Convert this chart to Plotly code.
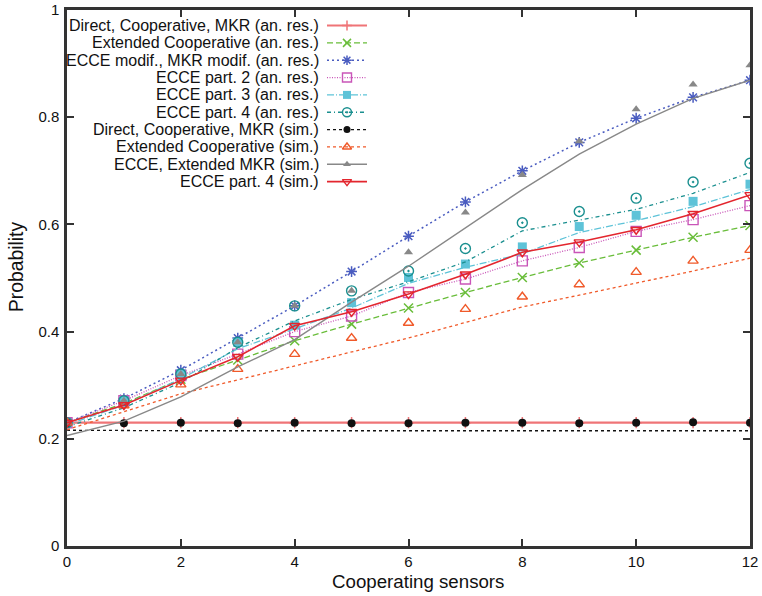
import plotly.graph_objects as go

# ---------------- data ----------------
x_sensors = [0, 1, 2, 3, 4, 5, 6, 7, 8, 9, 10, 11, 12]

direct_coop_mkr_an = [0.230, 0.230, 0.230, 0.230, 0.230, 0.230, 0.230, 0.230, 0.230, 0.230, 0.230, 0.230, 0.230]
ext_coop_an = [0.230, 0.266, 0.311, 0.347, 0.383, 0.414, 0.444, 0.473, 0.501, 0.528, 0.552, 0.576, 0.598]
ecce_modif_an = [0.230, 0.275, 0.328, 0.388, 0.448, 0.512, 0.578, 0.642, 0.700, 0.753, 0.798, 0.837, 0.869]
ecce_p2_an = [0.230, 0.271, 0.318, 0.358, 0.400, 0.429, 0.473, 0.498, 0.532, 0.557, 0.587, 0.609, 0.635]
ecce_p3_an_pts = [0.230, 0.271, 0.321, 0.380, 0.412, 0.454, 0.501, 0.526, 0.558, 0.596, 0.617, 0.643, 0.675]
ecce_p3_an_line = [0.226, 0.263, 0.312, 0.368, 0.405, 0.444, 0.490, 0.520, 0.545, 0.585, 0.607, 0.633, 0.665]
ecce_p4_an_pts = [0.230, 0.271, 0.321, 0.380, 0.448, 0.476, 0.513, 0.555, 0.603, 0.624, 0.649, 0.679, 0.714]
ecce_p4_an_line = [0.222, 0.258, 0.305, 0.370, 0.420, 0.460, 0.493, 0.530, 0.588, 0.608, 0.628, 0.658, 0.697]
direct_sim_pts = [0.230, 0.229, 0.230, 0.229, 0.230, 0.229, 0.229, 0.230, 0.230, 0.229, 0.230, 0.231, 0.230]
direct_sim_line = [0.216, 0.215, 0.215, 0.215, 0.215, 0.215, 0.214, 0.215, 0.215, 0.215, 0.215, 0.215, 0.215]
ext_coop_sim_pts = [0.230, 0.262, 0.301, 0.330, 0.358, 0.388, 0.416, 0.442, 0.465, 0.488, 0.511, 0.532, 0.552]
ext_coop_sim_line = [0.217, 0.250, 0.284, 0.310, 0.336, 0.362, 0.388, 0.417, 0.446, 0.468, 0.490, 0.513, 0.537]
ecce_ext_mkr_sim_pts = [0.230, 0.271, 0.321, 0.380, 0.448, 0.476, 0.548, 0.622, 0.692, 0.755, 0.815, 0.861, 0.897]
ecce_ext_mkr_sim_line = [0.206, 0.233, 0.278, 0.334, 0.385, 0.455, 0.522, 0.593, 0.665, 0.731, 0.787, 0.835, 0.869]
ecce_p4_sim = [0.230, 0.263, 0.309, 0.353, 0.411, 0.437, 0.470, 0.507, 0.548, 0.567, 0.590, 0.620, 0.655]

series_names = [
    "Direct, Cooperative, MKR (an. res.)",
    "Extended Cooperative (an. res.)",
    "ECCE modif., MKR modif. (an. res.)",
    "ECCE part. 2 (an. res.)",
    "ECCE part. 3 (an. res.)",
    "ECCE part. 4 (an. res.)",
    "Direct, Cooperative, MKR (sim.)",
    "Extended Cooperative (sim.)",
    "ECCE, Extended MKR (sim.)",
    "ECCE part. 4 (sim.)",
]
series_lines = [direct_coop_mkr_an, ext_coop_an, ecce_modif_an, ecce_p2_an, ecce_p3_an_line,
                ecce_p4_an_line, direct_sim_line, ext_coop_sim_line, ecce_ext_mkr_sim_line, ecce_p4_sim]
series_pts = [direct_coop_mkr_an, ext_coop_an, ecce_modif_an, ecce_p2_an, ecce_p3_an_pts,
              ecce_p4_an_pts, direct_sim_pts, ext_coop_sim_pts, ecce_ext_mkr_sim_pts, ecce_p4_sim]

y_tickvals = [0, 0.2, 0.4, 0.6, 0.8, 1]
y_ticktext = ["0", "0.2", "0.4", "0.6", "0.8", "1"]
x_tickvals = [0, 2, 4, 6, 8, 10, 12]
x_title = "Cooperating sensors"
y_title = "Probability"

# ---------------- styles ----------------
styles = [
    dict(color="#ef7477", dash="solid", width=2.2, symbol="cross-thin", size=8, mw=1.5),
    dict(color="#69bd3a", dash="6px,3px", width=1.3, symbol="x-thin", size=9, mw=1.5),
    dict(color="#4a5cc0", dash="2px,3px", width=1.5, symbol="asterisk", size=9, mw=1.5),
    dict(color="#c955b8", dash="1px,1.5px", width=1.3, symbol="square-open", size=10, mw=1.4),
    dict(color="#5ec3d8", dash="7px,2px,1px,2px", width=1.3, symbol="square", size=9, mw=0),
    dict(color="#1a8f8f", dash="4px,3px,1px,3px", width=1.3, symbol="circle-open-dot", size=10, mw=1.4),
    dict(color="#111111", dash="3px,3px", width=1.3, symbol="circle", size=8, mw=0),
    dict(color="#f05a2a", dash="3px,3px", width=1.3, symbol="triangle-up-open", size=9, mw=1.4),
    dict(color="#888888", dash="solid", width=1.4, symbol="triangle-up", size=8, mw=0),
    dict(color="#e3262e", dash="solid", width=1.6, symbol="triangle-down-open", size=9, mw=1.4),
]
FONT = "Liberation Sans, Arial, Helvetica, sans-serif"

fig = go.Figure()

for name, ly, py, st in zip(series_names, series_lines, series_pts, styles):
    fig.add_trace(go.Scatter(
        x=x_sensors, y=ly, mode="lines", name=name, showlegend=False,
        line=dict(color=st["color"], dash=st["dash"], width=st["width"]),
    ))
    fig.add_trace(go.Scatter(
        x=x_sensors, y=py, mode="markers", name=name, showlegend=False,
        marker=dict(symbol=st["symbol"], size=st["size"], color=st["color"],
                    line=dict(color=st["color"], width=st["mw"])),
    ))

# ---------------- gnuplot-style key (text left of sample), on an overlay pixel axis ----------------
W, H = 762, 596
PLOT_L, PLOT_R, PLOT_T, PLOT_B = 67, 750, 10, 546
KEY_Y0, KEY_DY = 25.5, 17.35
KEY_TXT_X, KEY_S0, KEY_S1 = 321, 327, 367


def px_to_paper(px, py):
    return (px - PLOT_L) / (PLOT_R - PLOT_L), (PLOT_B - py) / (PLOT_B - PLOT_T)


annotations = []
for i, (name, st) in enumerate(zip(series_names, styles)):
    yk = KEY_Y0 + i * KEY_DY
    fig.add_trace(go.Scatter(
        x=[KEY_S0, KEY_S1], y=[yk, yk], mode="lines", xaxis="x2", yaxis="y2", showlegend=False,
        hoverinfo="skip", line=dict(color=st["color"], dash=st["dash"], width=st["width"]),
    ))
    fig.add_trace(go.Scatter(
        x=[(KEY_S0 + KEY_S1) / 2], y=[yk], mode="markers", xaxis="x2", yaxis="y2", showlegend=False,
        hoverinfo="skip",
        marker=dict(symbol=st["symbol"], size=st["size"] - 1, color=st["color"],
                    line=dict(color=st["color"], width=st["mw"])),
    ))
    annotations.append(dict(
        x=KEY_TXT_X, y=yk, xref="x2", yref="y2", text=name, showarrow=False,
        xanchor="right", yanchor="middle",
        font=dict(family=FONT, size=16, color="#111111"),
    ))

# axis titles placed as in the gnuplot original (slightly off-centre)
xt_x, xt_y = px_to_paper(418, 581)
yt_x, yt_y = px_to_paper(16, 267)
annotations.append(dict(x=xt_x, y=xt_y, xref="paper", yref="paper", text=x_title, showarrow=False,
                        xanchor="center", yanchor="middle",
                        font=dict(family=FONT, size=18.7, color="#111111")))
annotations.append(dict(x=yt_x, y=yt_y, xref="paper", yref="paper", text=y_title, showarrow=False,
                        textangle=-90, xanchor="center", yanchor="middle",
                        font=dict(family=FONT, size=19.3, color="#111111")))

axis_common = dict(
    showline=True, linewidth=2.5, linecolor="#333333", mirror="allticks",
    ticks="inside", ticklen=7, tickwidth=2, tickcolor="#333333",
    showgrid=False, zeroline=False, automargin=False,
    tickfont=dict(family=FONT, size=15, color="#111111"),
)

fig.update_layout(
    width=W, height=H,
    margin=dict(l=PLOT_L, r=W - PLOT_R, t=PLOT_T, b=H - PLOT_B),
    paper_bgcolor="white", plot_bgcolor="rgba(0,0,0,0)",
    showlegend=False,
    xaxis=dict(range=[0, 12], tickvals=x_tickvals, ticklabelstandoff=0, **axis_common),
    yaxis=dict(range=[0, 1], tickvals=y_tickvals, ticktext=y_ticktext, ticklabelstandoff=2, **axis_common),
    xaxis2=dict(domain=[0, 1], range=[PLOT_L, PLOT_R], anchor="y2", visible=False, fixedrange=True,
                automargin=False),
    yaxis2=dict(domain=[0, 1], range=[PLOT_B, PLOT_T], anchor="x2", visible=False, fixedrange=True,
                automargin=False),
    annotations=annotations,
)

fig.write_html("out.html")
